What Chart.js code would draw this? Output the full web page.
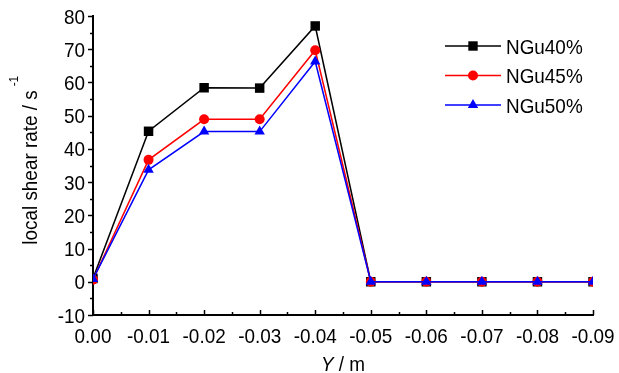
<!DOCTYPE html>
<html>
<head>
<meta charset="utf-8">
<script src="https://cdn.jsdelivr.net/npm/chart.js@4.4.1/dist/chart.umd.min.js"></script>
<style>
  html, body { margin: 0; padding: 0; background: #fff; }
</style>
</head>
<body>
<canvas id="shear" width="619" height="373"></canvas>
<script>
// data
const positions = [0, -0.01, -0.02, -0.03, -0.04, -0.05, -0.06, -0.07, -0.08, -0.09];
const ngu40 = [1.0, 45.3, 58.4, 58.3, 77.0, 0, 0, 0, 0, 0];
const ngu45 = [0.6, 36.7, 48.9, 48.9, 69.7, 0, 0, 0, 0, 0];
const ngu50 = [0.8, 33.7, 45.2, 45.2, 66.3, 0, 0, 0, 0, 0];
const seriesNames = ['NGu40%', 'NGu45%', 'NGu50%'];
const yRange = [-10, 80];
const xRange = [-0.09, 0];

const FONT = '"Liberation Sans", Arial, sans-serif';
const TXT = '21px ' + FONT;
const NARROW = 0.9; // text in the original is a little condensed

function pts(vals) {
    return positions.map((p, i) => ({x: p, y: vals[i]}));
}

// draw text squeezed horizontally, returns its width
function narrowText(ctx, text, x, y, align, font) {
    ctx.save();
    ctx.font = font;
    const w = ctx.measureText(text).width * NARROW;
    let left = x;
    if (align === 'center') left = x - w / 2;
    if (align === 'right') left = x - w;
    ctx.translate(left, y);
    ctx.scale(NARROW, 1);
    ctx.textAlign = 'left';
    ctx.fillText(text, 0, 0);
    ctx.restore();
    return w;
}

function marker(ctx, style, x, y, color) {
    ctx.fillStyle = color;
    ctx.beginPath();
    if (style === 'rect') {
        ctx.rect(x - 4.7, y - 4.7, 9.4, 9.4);
    } else if (style === 'circle') {
        ctx.arc(x, y, 5, 0, Math.PI * 2);
    } else {
        ctx.moveTo(x, y - 6);
        ctx.lineTo(x + 5.2, y + 3);
        ctx.lineTo(x - 5.2, y + 3);
        ctx.closePath();
    }
    ctx.fill();
}

// tick marks, tick labels, axis titles and legend
const extras = {
    id: 'extras',
    afterDraw(chart) {
        const ctx = chart.ctx;
        const xs = chart.scales.x, ys = chart.scales.y;
        const area = chart.chartArea;
        ctx.save();
        ctx.strokeStyle = '#000';
        ctx.fillStyle = '#000';
        ctx.textBaseline = 'alphabetic';
        ctx.lineWidth = 1.5;
        ctx.beginPath();
        for (let v = yRange[0]; v <= yRange[1]; v += 5) {
            const py = Math.round(ys.getPixelForValue(v)) + 0.5;
            const major = v % 10 === 0;
            ctx.moveTo(area.left, py);
            ctx.lineTo(area.left - (major ? 5 : 3), py);
        }
        for (let k = 0; k <= 18; k++) {
            const v = -k * 0.005;
            const px = Math.round(xs.getPixelForValue(v)) + 0.5;
            ctx.moveTo(px, area.bottom);
            ctx.lineTo(px, area.bottom - (k % 2 === 0 ? 5 : 3));
        }
        ctx.stroke();

        for (let v = yRange[0]; v <= yRange[1]; v += 10) {
            narrowText(ctx, String(v), area.left - 8, ys.getPixelForValue(v) + 7.5, 'right', TXT);
        }
        for (let k = 0; k <= 9; k++) {
            const v = -k * 0.01;
            narrowText(ctx, v.toFixed(2), xs.getPixelForValue(v), 343, 'center', TXT);
        }

        // x title
        const cx = (area.left + area.right) / 2;
        ctx.font = 'italic ' + TXT;
        const wY = ctx.measureText('Y').width * NARROW;
        ctx.font = TXT;
        const wR = ctx.measureText(' / m').width * NARROW;
        const sx = cx - (wY + wR) / 2;
        narrowText(ctx, 'Y', sx, 371, 'left', 'italic ' + TXT);
        narrowText(ctx, ' / m', sx + wY, 371, 'left', TXT);

        // y title, rotated
        ctx.save();
        ctx.translate(36.5, 167.5);
        ctx.rotate(-Math.PI / 2);
        const w = narrowText(ctx, 'local shear rate / s', 0, 0, 'center', TXT);
        narrowText(ctx, '-1', w / 2 + 4, -18.5, 'left', '13px ' + FONT);
        ctx.restore();

        // legend
        chart.data.datasets.forEach((ds, i) => {
            const ly = 46 + i * 29.5;
            ctx.strokeStyle = ds.borderColor;
            ctx.lineWidth = 1.5;
            ctx.beginPath();
            ctx.moveTo(445, ly);
            ctx.lineTo(501, ly);
            ctx.stroke();
            marker(ctx, ds.pointStyle, 473, ly, ds.borderColor);
            ctx.fillStyle = '#000';
            narrowText(ctx, ds.label, 506, ly + 7.5, 'left', TXT);
        });
        ctx.restore();
    }
};

function makeSet(label, vals, color, style, radius, order) {
    return {
        label: label,
        data: pts(vals),
        borderColor: color,
        backgroundColor: color,
        pointBackgroundColor: color,
        pointBorderWidth: 0,
        pointStyle: style,
        pointRadius: radius,
        borderWidth: 1.5,
        tension: 0,
        order: order
    };
}

const shearChart = new Chart(document.getElementById('shear'), {
    type: 'line',
    data: {
        datasets: [
            makeSet(seriesNames[0], ngu40, '#000000', 'rect', 6.7, 2),
            makeSet(seriesNames[1], ngu45, '#ff0000', 'circle', 5, 1),
            makeSet(seriesNames[2], ngu50, '#0000ff', 'triangle', 6, 0)
        ]
    },
    options: {
        responsive: false,
        animation: false,
        layout: { padding: { left: 0, top: 16, right: 26, bottom: 0 } },
        plugins: { legend: { display: false }, tooltip: { enabled: false } },
        scales: {
            x: {
                type: 'linear',
                reverse: true,
                min: xRange[0],
                max: xRange[1],
                afterFit: s => { s.height = 58; },
                ticks: { display: false, stepSize: 0.01 },
                grid: { drawOnChartArea: false, drawTicks: false },
                border: { color: '#000', width: 2 }
            },
            y: {
                min: yRange[0],
                max: yRange[1],
                afterFit: s => { s.width = 93; },
                ticks: { display: false, stepSize: 10 },
                grid: { drawOnChartArea: false, drawTicks: false },
                border: { color: '#000', width: 2 }
            }
        }
    },
    plugins: [extras]
});
</script>
</body>
</html>
